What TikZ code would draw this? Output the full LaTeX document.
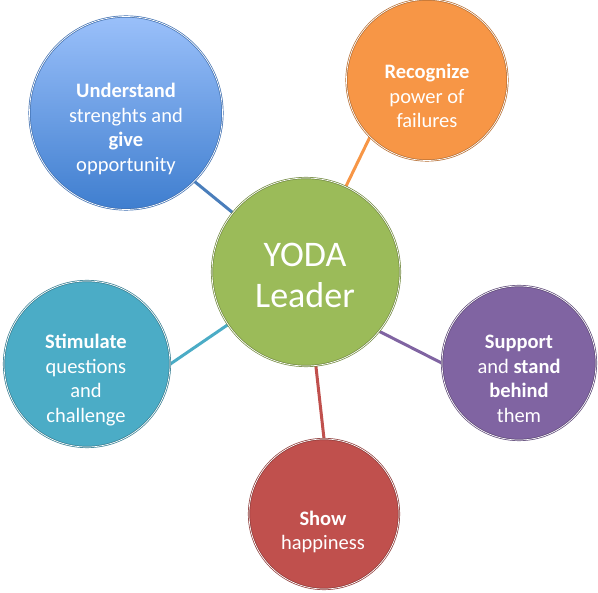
\documentclass[tikz,border=0pt]{standalone}
\usepackage{fontspec}
\setmainfont{Carlito}
\usetikzlibrary{backgrounds}
\definecolor{cGreen}{HTML}{9BBB59}
\definecolor{cGreenD}{HTML}{71893F}
\definecolor{cBlueT}{HTML}{9AC0FA}
\definecolor{cBlueB}{HTML}{3F7ECF}
\definecolor{cBlueD}{HTML}{3F6FB0}
\definecolor{cBlueL}{HTML}{4A7EBB}
\definecolor{cOrange}{HTML}{F79646}
\definecolor{cOrangeD}{HTML}{B66D31}
\definecolor{cTeal}{HTML}{4BACC6}
\definecolor{cTealD}{HTML}{357D91}
\definecolor{cPurple}{HTML}{8064A2}
\definecolor{cPurpleD}{HTML}{5C4776}
\definecolor{cRed}{HTML}{C0504D}
\definecolor{cRedD}{HTML}{8C3836}
\begin{document}
\begin{tikzpicture}[x=1pt,y=-1pt,
  bubble/.style={circle, line width=0.7pt, double=white, double distance=0.7pt, inner sep=0pt},
  txt/.style={text=white, align=center, inner sep=0pt, font=\fontsize{20.5}{24.5}\selectfont},
  bigtxt/.style={text=white, align=center, inner sep=0pt, font=\fontsize{36}{41}\selectfont},
  link/.style={line width=3pt}]
\useasboundingbox (0,0) rectangle (598,593);
\node[bubble, minimum size=188pt, fill=cGreen, draw=cGreenD] (g) at (306,272) {};
\node[bubble, minimum size=193pt, top color=cBlueT, bottom color=cBlueB, draw=cBlueD] (b) at (126,113) {};
\node[bubble, minimum size=161pt, fill=cOrange, draw=cOrangeD] (o) at (427,80) {};
\node[bubble, minimum size=166pt, fill=cTeal, draw=cTealD] (t) at (87,364) {};
\node[bubble, minimum size=154pt, fill=cPurple, draw=cPurpleD] (p) at (519,363) {};
\node[bubble, minimum size=150pt, fill=cRed, draw=cRedD] (r) at (324,514) {};
\begin{scope}[on background layer]
\draw[link, cBlueL] (g.141) -- (b.south east);
\draw[link, cOrange] (g.65) -- (o.south west);
\draw[link, cTeal] (g.214) -- (t.east);
\draw[link, cPurple] (g.321) -- (p.west);
\draw[link, cRed] (g.276) -- (r.north);
\end{scope}
\node[bigtxt] (gt) at (305,275) {YODA\\Leader};
\node[txt] (bt) at (126,129) {\textbf{Understand}\\strenghts and\\\textbf{give}\\opportunity};
\node[txt] (ot) at (427,96) {\textbf{Recognize}\\power of\\failures};
\node[txt] (tt) at (86,380) {\textbf{Stimulate}\\questions\\and\\challenge};
\node[txt] (pt) at (519,379) {\textbf{Support}\\and \textbf{stand}\\\textbf{behind}\\them};
\node[txt] (rt) at (323,532) {\textbf{Show}\\happiness};
\end{tikzpicture}
\end{document}
